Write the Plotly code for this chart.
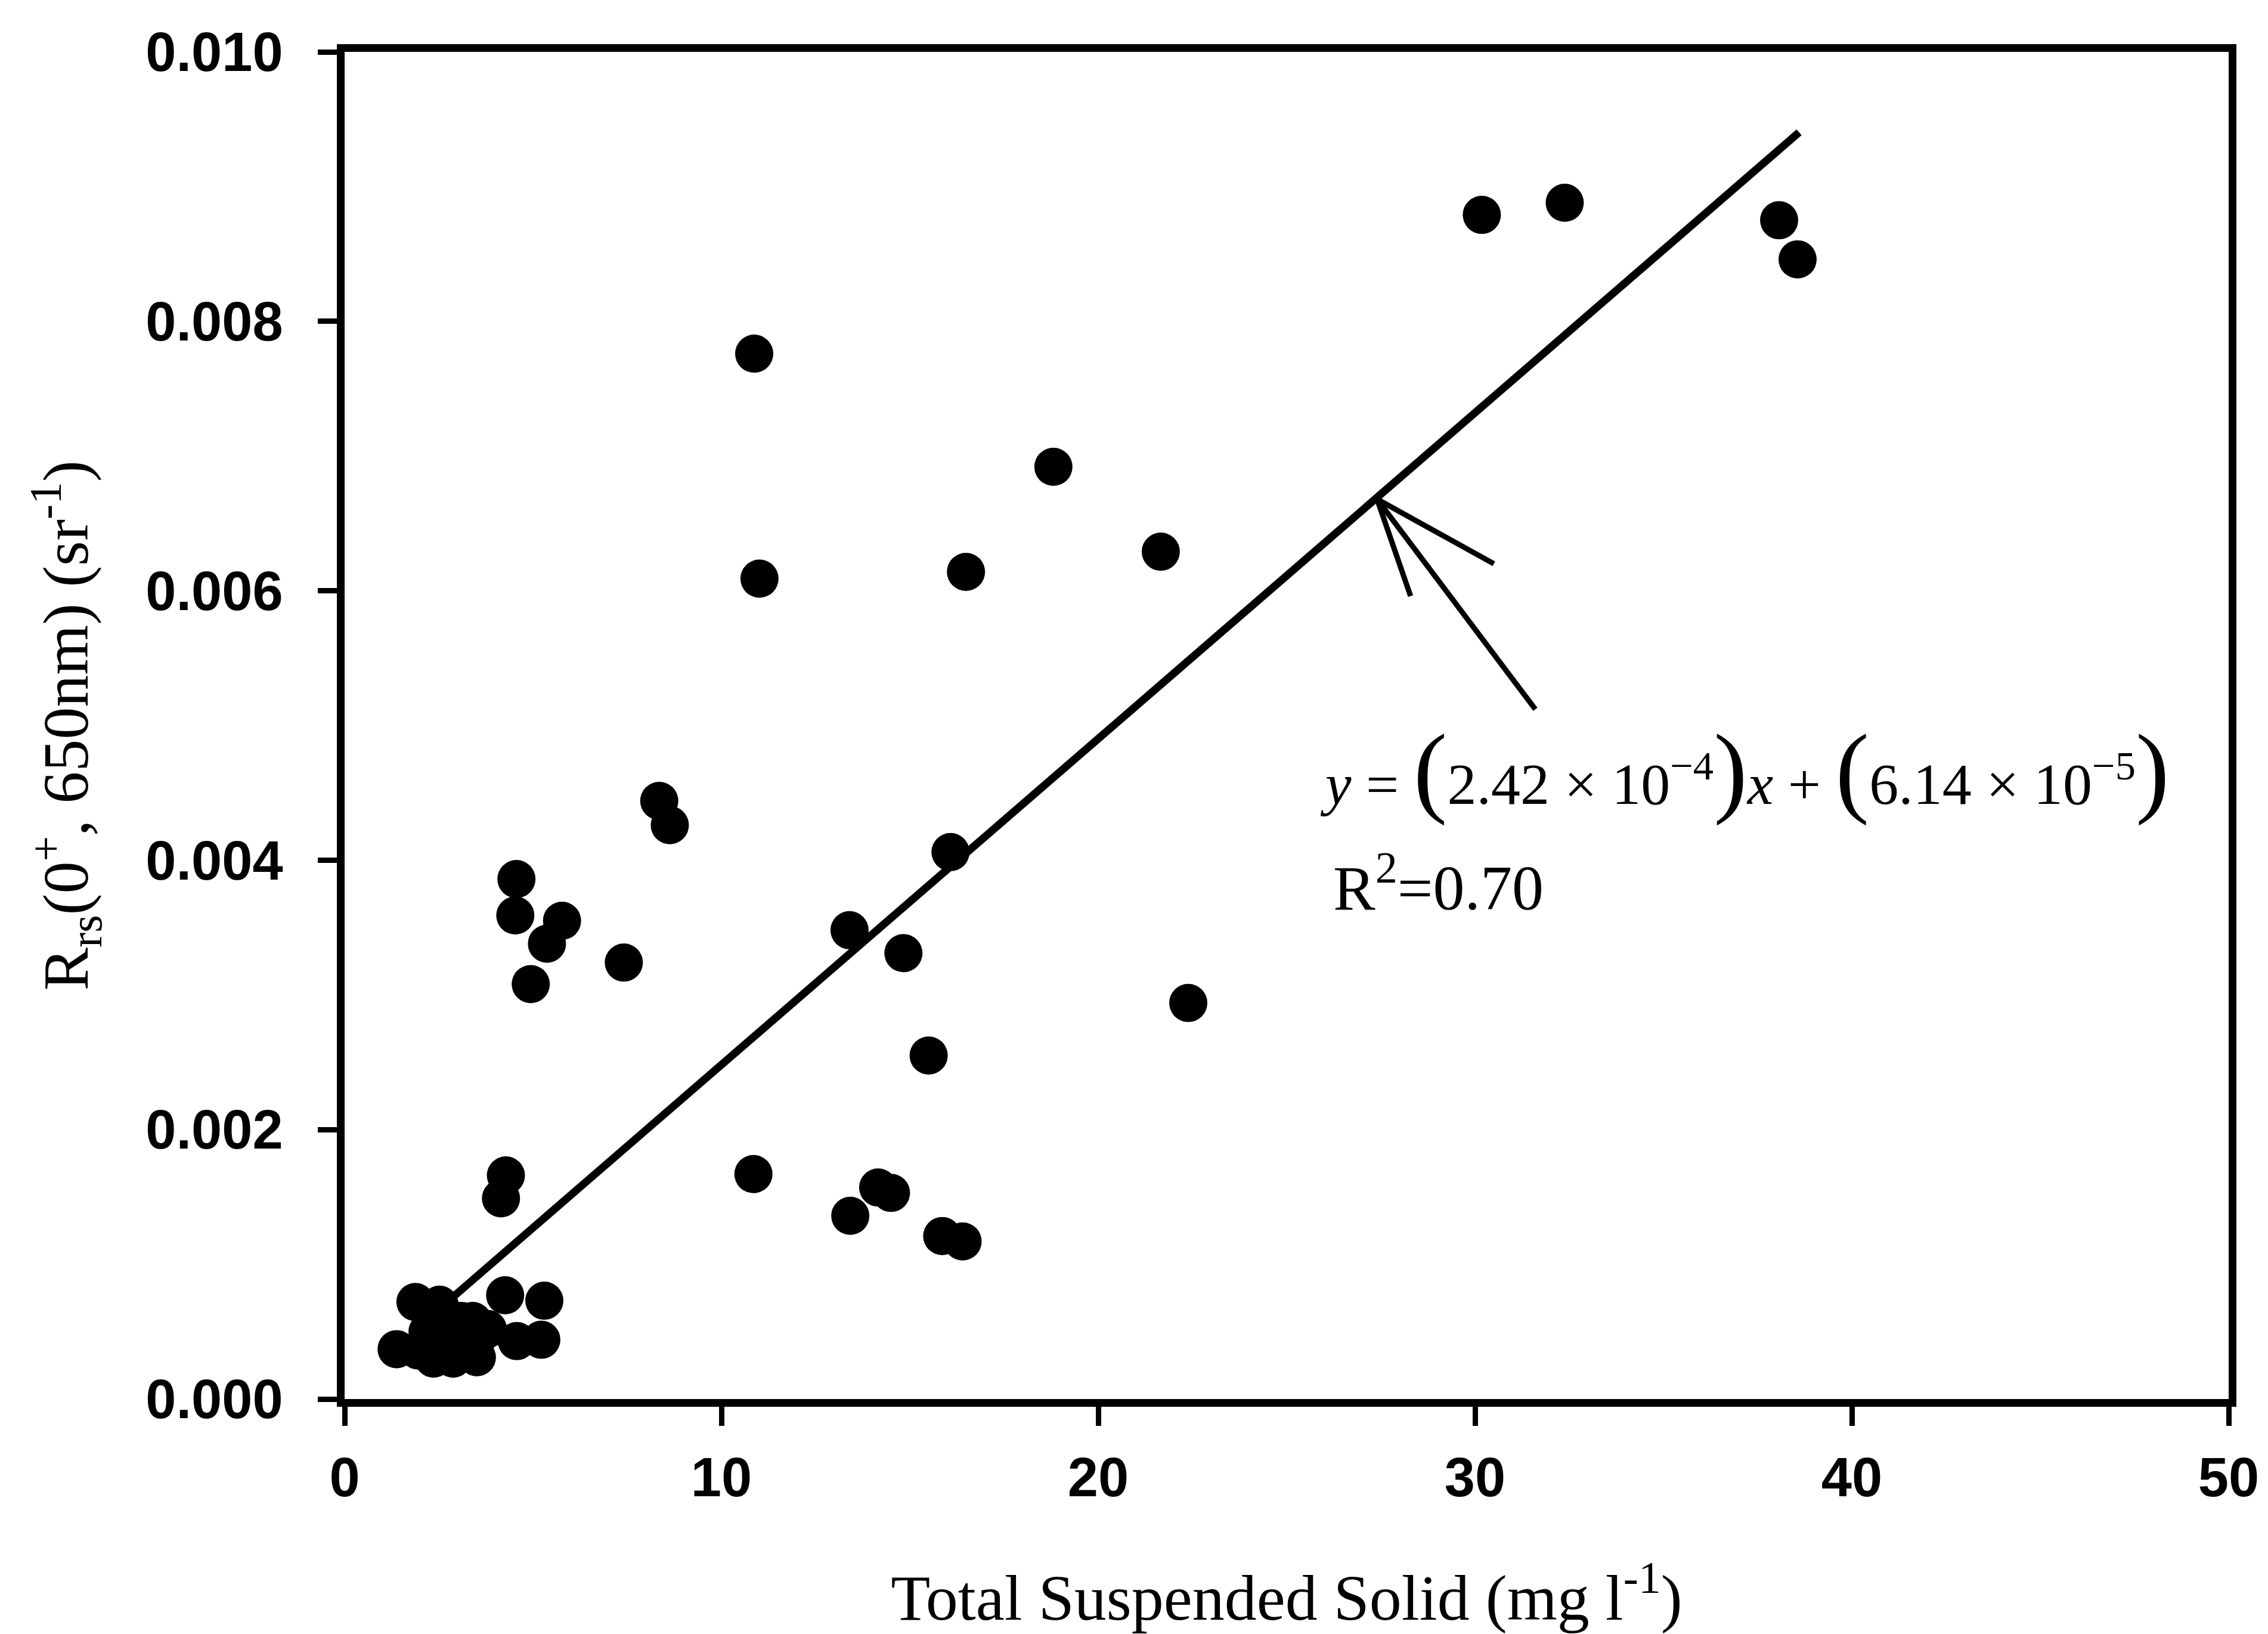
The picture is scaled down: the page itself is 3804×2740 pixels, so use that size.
import plotly.graph_objects as go

# ---- data ----
tss = [10.87, 11.01, 18.81, 21.66, 16.49, 30.18, 32.38, 38.07, 38.56,
       8.35, 8.63, 4.56, 4.53, 5.77, 5.37, 4.94, 7.41,
       16.08, 13.40, 14.83, 22.39, 15.50,
       10.85, 14.16, 14.50, 13.42, 15.86, 16.40, 4.28, 4.15,
       1.38, 1.88, 2.52, 4.26, 5.30, 5.22, 4.57, 2.36, 2.88, 3.51,
       1.95, 2.70, 3.10, 3.60, 3.00, 3.80, 2.20, 3.40]
rrs = [0.00776, 0.00609, 0.00692, 0.00629, 0.00614, 0.00879, 0.00888, 0.00875, 0.00846,
       0.00444, 0.00426, 0.00386, 0.00359, 0.00355, 0.00338, 0.00308, 0.00324,
       0.00406, 0.00348, 0.00331, 0.00294, 0.00255,
       0.00167, 0.00157, 0.00153, 0.00136, 0.00121, 0.00117, 0.00166, 0.00149,
       0.00037, 0.00072, 0.00070, 0.00077, 0.00073, 0.00044, 0.00043, 0.00030, 0.00030, 0.00031,
       0.00036, 0.00050, 0.00058, 0.00048, 0.00042, 0.00052, 0.00050, 0.00058]

fit_slope = 2.42e-4
fit_intercept = 6.14e-5
fit_x = [2.5, 38.6]
fit_y = [fit_slope * v + fit_intercept for v in fit_x]

# arrow pointing at the regression line (barb, tip, barb, gap, tip, tail)
arrow_x = [30.50, 27.40, 28.29, None, 27.40, 31.60]
arrow_y = [0.00620, 0.00668, 0.00596, None, 0.00668, 0.00512]

x_ticks = [0, 10, 20, 30, 40, 50]
y_ticks = [0.000, 0.002, 0.004, 0.006, 0.008, 0.010]

TICKFONT = dict(family="Liberation Sans, Arial, sans-serif", size=92, color="black", weight="bold")
SERIF = "Liberation Serif, Times New Roman, serif"

fig = go.Figure()
fig.add_trace(go.Scatter(x=fit_x, y=fit_y, mode="lines",
                         line=dict(color="black", width=13), showlegend=False))
fig.add_trace(go.Scatter(x=arrow_x, y=arrow_y, mode="lines",
                         line=dict(color="black", width=9), showlegend=False))
fig.add_trace(go.Scatter(x=tss, y=rrs, mode="markers",
                         marker=dict(color="black", size=64, line=dict(width=0)),
                         showlegend=False, cliponaxis=False))

P = '<span style="font-size:170px">{}</span>'
eq = ("<i>y</i> = " + P.format("(") + "2.42 × 10<sup>−4</sup>" + P.format(")") +
      "<i>x</i> + " + P.format("(") + "6.14 × 10<sup>−5</sup>" + P.format(")"))
fig.add_annotation(x=25.85, y=0.00467, xref="x", yref="y", text=eq, showarrow=False,
                   xanchor="left", yanchor="middle",
                   font=dict(family=SERIF, size=98, color="black"))
fig.add_annotation(x=26.2, y=0.00383, xref="x", yref="y", text="R<sup>2</sup>=0.70",
                   showarrow=False, xanchor="left", yanchor="middle",
                   font=dict(family=SERIF, size=106, color="black"))

fig.update_layout(
    width=3804, height=2740,
    margin=dict(l=578, r=66, t=87, b=394),
    paper_bgcolor="white", plot_bgcolor="white",
    xaxis=dict(range=[0, 50], tickvals=x_ticks, ticks="outside", ticklen=32, tickwidth=9,
               tickcolor="black", showline=True, linewidth=13, linecolor="black", mirror=True,
               showgrid=False, zeroline=False, tickfont=TICKFONT, ticklabelstandoff=8,
               automargin=False,
               title=dict(text="Total Suspended Solid (mg l<sup>-1</sup>)",
                          font=dict(family=SERIF, size=108, color="black"), standoff=176)),
    yaxis=dict(range=[0, 0.010], tickvals=y_ticks, tickformat=".3f", ticks="outside",
               ticklen=32, tickwidth=9, tickcolor="black", showline=True, linewidth=13,
               linecolor="black", mirror=True, showgrid=False, zeroline=False,
               tickfont=TICKFONT, ticklabelstandoff=40, automargin=False,
               title=dict(text="R<sub>rs</sub>(0<sup>+</sup>, 650nm) (sr<sup>-1</sup>)",
                          font=dict(family=SERIF, size=108, color="black"), standoff=66)),
)

fig.write_html("out.html")
